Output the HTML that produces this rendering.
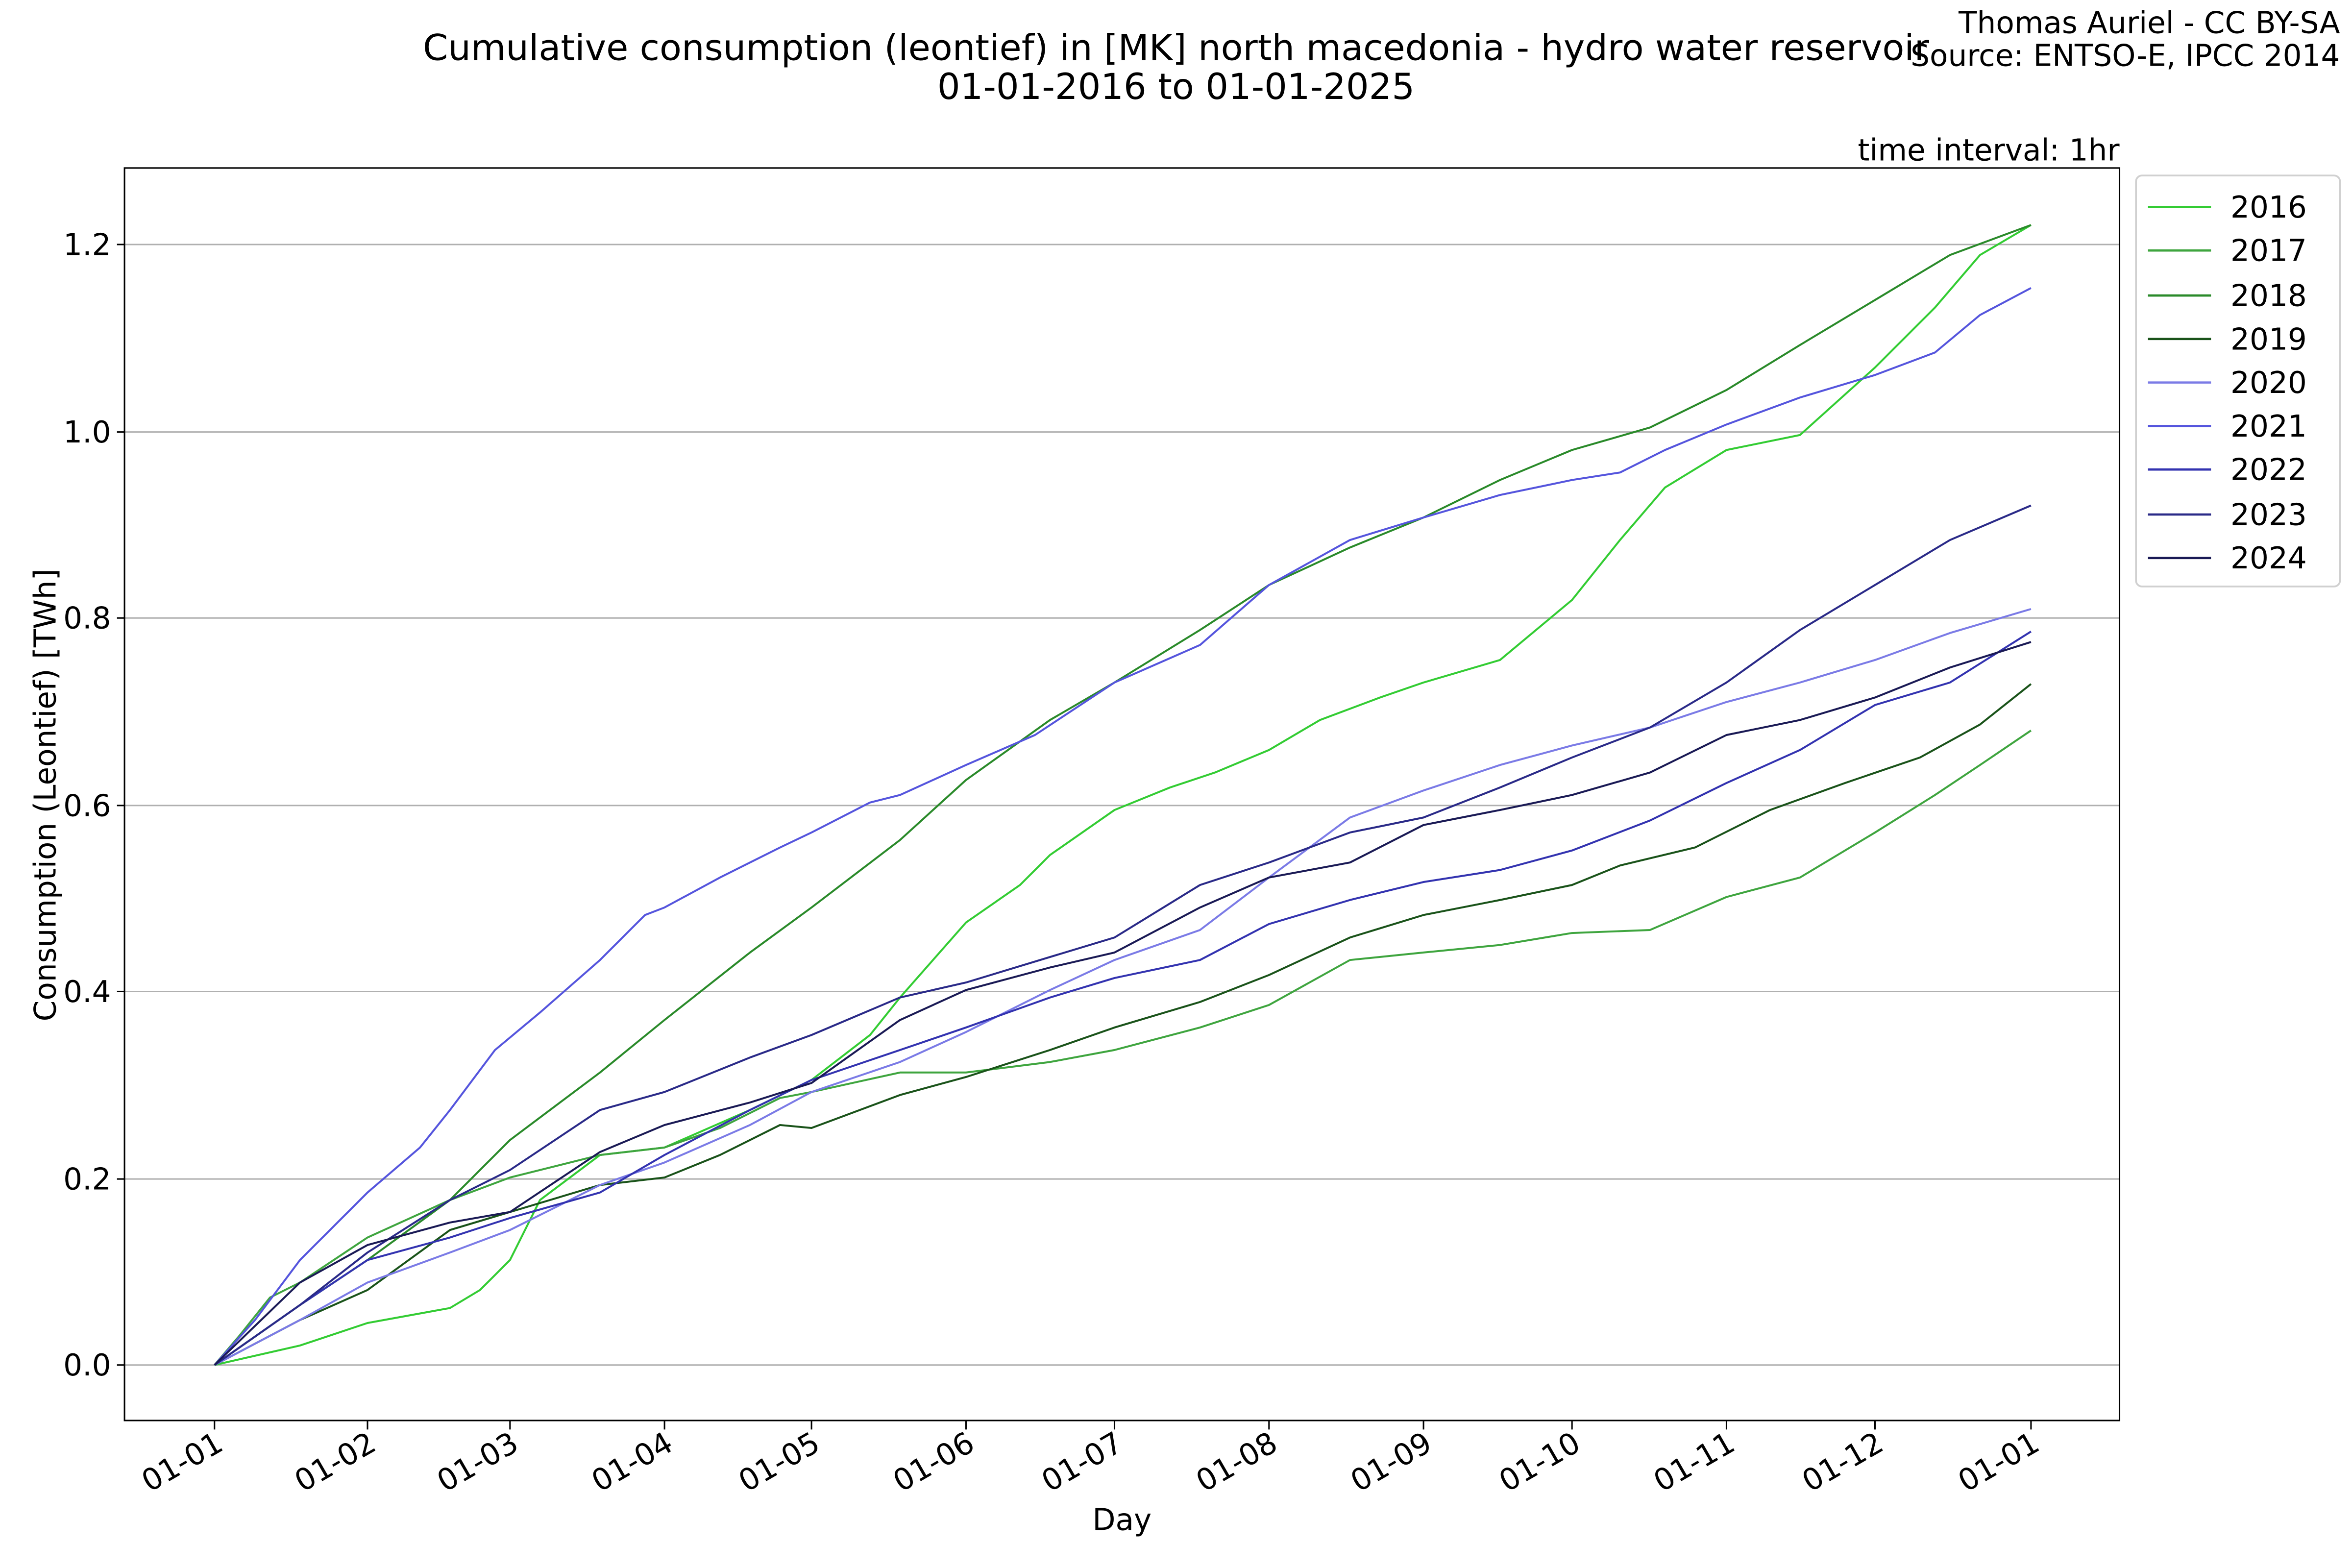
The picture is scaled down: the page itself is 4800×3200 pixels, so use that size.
<!DOCTYPE html>
<html><head><meta charset="utf-8"><style>
html,body{margin:0;padding:0;background:#fff;}
svg{display:block;}
text{font-family:"DejaVu Sans","Liberation Sans",sans-serif;fill:#000;}
</style></head><body>
<svg width="4800" height="3200" viewBox="0 0 1568 1045.33" preserveAspectRatio="none" xmlns="http://www.w3.org/2000/svg">
<rect width="1568" height="1046" fill="#fff"/>
<text x="784" y="40" font-size="24" text-anchor="middle">Cumulative consumption (leontief) in [MK] north macedonia - hydro water reservoir</text>
<text x="784" y="66" font-size="24" text-anchor="middle">01-01-2016 to 01-01-2025</text>
<text x="1560" y="22" font-size="20" text-anchor="end">Thomas Auriel - CC BY-SA</text>
<text x="1560" y="44" font-size="20" text-anchor="end">Source: ENTSO-E, IPCC 2014</text>
<text x="1413" y="107" font-size="20" text-anchor="end">time interval: 1hr</text>
<g stroke="#b0b0b0" stroke-width="1">
<line x1="83" x2="1413" y1="910" y2="910"/><line x1="83" x2="1413" y1="786" y2="786"/>
<line x1="83" x2="1413" y1="661" y2="661"/><line x1="83" x2="1413" y1="537" y2="537"/>
<line x1="83" x2="1413" y1="412" y2="412"/><line x1="83" x2="1413" y1="288" y2="288"/>
<line x1="83" x2="1413" y1="163" y2="163"/>
</g>
<g font-size="20" text-anchor="end">
<text x="74" y="917">0.0</text><text x="74" y="793">0.2</text><text x="74" y="668">0.4</text>
<text x="74" y="544">0.6</text><text x="74" y="419">0.8</text><text x="74" y="295">1.0</text><text x="74" y="170">1.2</text>
</g>
<g stroke="#000" stroke-width="1">
<line x1="78" x2="83" y1="910" y2="910"/><line x1="78" x2="83" y1="786" y2="786"/><line x1="78" x2="83" y1="661" y2="661"/><line x1="78" x2="83" y1="537" y2="537"/><line x1="78" x2="83" y1="412" y2="412"/><line x1="78" x2="83" y1="288" y2="288"/><line x1="78" x2="83" y1="163" y2="163"/>
<line x1="143" x2="143" y1="947" y2="953"/><line x1="245" x2="245" y1="947" y2="953"/><line x1="340" x2="340" y1="947" y2="953"/><line x1="443" x2="443" y1="947" y2="953"/><line x1="541" x2="541" y1="947" y2="953"/><line x1="644" x2="644" y1="947" y2="953"/><line x1="743" x2="743" y1="947" y2="953"/><line x1="846" x2="846" y1="947" y2="953"/><line x1="949" x2="949" y1="947" y2="953"/><line x1="1048" x2="1048" y1="947" y2="953"/><line x1="1151" x2="1151" y1="947" y2="953"/><line x1="1250" x2="1250" y1="947" y2="953"/><line x1="1354" x2="1354" y1="947" y2="953"/>
</g>
<g font-size="20" text-anchor="end">
<text transform="translate(150,966) rotate(-30)">01-01</text>
<text transform="translate(252,966) rotate(-30)">01-02</text>
<text transform="translate(347,966) rotate(-30)">01-03</text>
<text transform="translate(450,966) rotate(-30)">01-04</text>
<text transform="translate(548,966) rotate(-30)">01-05</text>
<text transform="translate(651,966) rotate(-30)">01-06</text>
<text transform="translate(750,966) rotate(-30)">01-07</text>
<text transform="translate(853,966) rotate(-30)">01-08</text>
<text transform="translate(956,966) rotate(-30)">01-09</text>
<text transform="translate(1055,966) rotate(-30)">01-10</text>
<text transform="translate(1158,966) rotate(-30)">01-11</text>
<text transform="translate(1257,966) rotate(-30)">01-12</text>
<text transform="translate(1361,966) rotate(-30)">01-01</text>
</g>
<text x="748" y="1020" font-size="20" text-anchor="middle">Day</text>
<text transform="translate(37,530) rotate(-90)" font-size="20" text-anchor="middle">Consumption (Leontief) [TWh]</text>
<g fill="none" stroke-width="1.3" stroke-linejoin="round">
<polyline stroke="#33cc33" points="143,910 200,897 245,882 300,872 320,860 340,840 360,800 400,770 443,765 500,740 541,720 580,690 600,665 644,615 680,590 700,570 743,540 780,525 810,515 846,500 880,480 920,465 949,455 1000,440 1048,400 1080,360 1110,325 1151,300 1200,290 1250,245 1290,205 1320,170 1354,150"/>
<polyline stroke="#3fa53f" points="143,910 160,890 180,865 200,855 245,825 300,800 340,785 400,770 443,765 480,752 520,732 541,728 600,715 644,715 700,708 743,700 800,685 846,670 900,640 949,635 1000,630 1048,622 1100,620 1151,598 1200,585 1250,555 1290,530 1320,510 1354,487"/>
<polyline stroke="#2a8a2a" points="143,910 200,870 245,840 300,800 340,760 400,715 443,680 500,635 541,605 600,560 644,520 700,480 743,455 800,420 846,390 900,365 949,345 1000,320 1048,300 1100,285 1151,260 1200,230 1250,200 1300,170 1354,150"/>
<polyline stroke="#1a531a" points="143,910 200,880 245,860 300,820 340,808 400,790 443,785 480,770 520,750 541,752 600,730 644,718 700,700 743,685 800,668 846,650 900,625 949,610 1000,600 1048,590 1080,577 1130,565 1180,540 1230,522 1280,505 1320,483 1354,456"/>
<polyline stroke="#7b7be6" points="143,910 200,880 245,855 300,835 340,820 400,790 443,775 500,750 541,728 600,708 644,688 700,660 743,640 800,620 846,585 900,545 949,527 1000,510 1048,497 1100,485 1151,468 1200,455 1250,440 1300,422 1354,406"/>
<polyline stroke="#5555dd" points="143,910 170,880 200,840 245,795 280,765 300,740 330,700 360,675 400,640 430,610 443,605 480,585 520,565 541,555 580,535 600,530 644,510 690,490 743,455 800,430 846,390 900,360 949,345 1000,330 1048,320 1080,315 1110,300 1151,283 1200,265 1250,250 1290,235 1320,210 1354,192"/>
<polyline stroke="#3333b0" points="143,910 200,870 245,840 300,825 340,812 400,795 443,770 500,740 541,720 600,700 644,685 700,665 743,652 800,640 846,616 900,600 949,588 1000,580 1048,567 1100,547 1151,522 1200,500 1250,470 1300,455 1354,421"/>
<polyline stroke="#2a2a88" points="143,910 200,870 245,835 300,800 340,780 400,740 443,728 500,705 541,690 600,665 644,655 700,638 743,625 800,590 846,575 900,555 949,545 1000,525 1048,505 1100,485 1151,455 1200,420 1250,390 1300,360 1354,337"/>
<polyline stroke="#1a1a55" points="143,910 200,855 245,830 300,815 340,808 400,768 443,750 500,735 541,722 600,680 644,660 700,645 743,635 800,605 846,585 900,575 949,550 1000,540 1048,530 1100,515 1151,490 1200,480 1250,465 1300,445 1354,428"/>
</g>
<rect x="83" y="112" width="1330" height="835" fill="none" stroke="#000" stroke-width="1"/>
<rect x="1424" y="117" width="136" height="274" rx="4" fill="#fff" stroke="#d0d0d0" stroke-width="1.2"/>
<g stroke-width="1.5">
<line x1="1432" x2="1474" y1="138" y2="138" stroke="#33cc33"/>
<line x1="1432" x2="1474" y1="167" y2="167" stroke="#3fa53f"/>
<line x1="1432" x2="1474" y1="197" y2="197" stroke="#2a8a2a"/>
<line x1="1432" x2="1474" y1="226" y2="226" stroke="#1a531a"/>
<line x1="1432" x2="1474" y1="255" y2="255" stroke="#7b7be6"/>
<line x1="1432" x2="1474" y1="284" y2="284" stroke="#5555dd"/>
<line x1="1432" x2="1474" y1="313" y2="313" stroke="#3333b0"/>
<line x1="1432" x2="1474" y1="343" y2="343" stroke="#2a2a88"/>
<line x1="1432" x2="1474" y1="372" y2="372" stroke="#1a1a55"/>
</g>
<g font-size="20">
<text x="1487" y="145">2016</text><text x="1487" y="174">2017</text><text x="1487" y="204">2018</text>
<text x="1487" y="233">2019</text><text x="1487" y="262">2020</text><text x="1487" y="291">2021</text>
<text x="1487" y="320">2022</text><text x="1487" y="350">2023</text><text x="1487" y="379">2024</text>
</g>
</svg>
</body></html>
